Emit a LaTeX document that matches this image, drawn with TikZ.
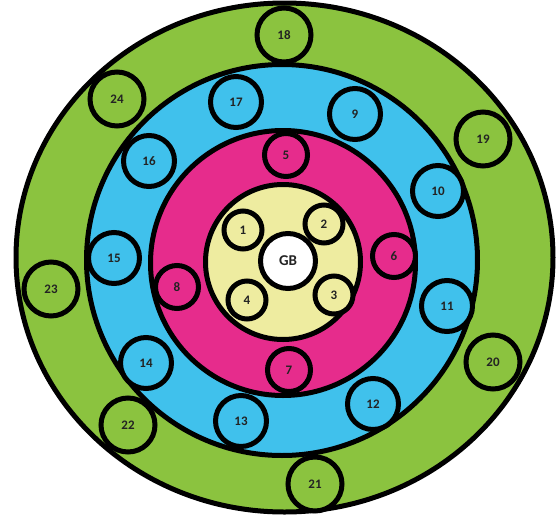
\documentclass[tikz,border=0pt]{standalone}
\usepackage{fontspec}
\setmainfont{Carlito}
\definecolor{ringgreen}{RGB}{139,195,63}
\definecolor{ringblue}{RGB}{64,193,236}
\definecolor{ringpink}{RGB}{230,44,140}
\definecolor{ringyellow}{RGB}{238,236,160}
\definecolor{labelink}{RGB}{35,35,35}
\begin{document}
\begin{tikzpicture}[x=1pt,y=-1pt,
  ringline/.style={draw=black,line width=5pt},
  bubble/.style={circle,draw=black,line width=5pt,inner sep=0pt,
    font=\bfseries\fontsize{13}{13}\selectfont,text=labelink},
  gbub/.style={bubble,fill=ringgreen,minimum size=54pt},
  bbub/.style={bubble,fill=ringblue,minimum size=51pt},
  pbub/.style={bubble,fill=ringpink,minimum size=43pt},
  ybub/.style={bubble,fill=ringyellow,minimum size=38pt},
  core/.style={bubble,fill=white,minimum size=55pt,
    font=\bfseries\fontsize{15}{15}\selectfont}]
\useasboundingbox (0,0) rectangle (558,515);
% rings
\draw[ringline,fill=ringgreen] (284.5,257.5) ellipse [x radius=268.5,y radius=254.5];
\draw[ringline,fill=ringblue] (282,260) circle [radius=195.5];
\draw[ringline,fill=ringpink] (283,263) circle [radius=132.5];
\draw[ringline,fill=ringyellow] (283,262) circle [radius=77.5];
% centre
\node[core] (gb) at (288,261) {GB};
% yellow ring
\node[ybub] (n1) at (243,230) {1};
\node[ybub] (n2) at (324,224) {2};
\node[ybub] (n3) at (334,295) {3};
\node[ybub] (n4) at (247,300) {4};
% pink ring
\node[pbub] (n5) at (286,155) {5};
\node[pbub] (n6) at (394,256) {6};
\node[pbub] (n7) at (289,370) {7};
\node[pbub] (n8) at (177,287) {8};
% blue ring
\node[bbub] (n9) at (355,114) {9};
\node[bbub] (n10) at (438,191) {10};
\node[bbub] (n11) at (447,306) {11};
\node[bbub] (n12) at (373,404) {12};
\node[bbub] (n13) at (241,421) {13};
\node[bbub] (n14) at (146,363) {14};
\node[bbub] (n15) at (114,258) {15};
\node[bbub] (n16) at (149,161) {16};
\node[bbub] (n17) at (236,102) {17};
% green ring
\node[gbub] (n18) at (284,35) {18};
\node[gbub] (n19) at (483,139) {19};
\node[gbub] (n20) at (493,362) {20};
\node[gbub] (n21) at (315,484) {21};
\node[gbub] (n22) at (128,425) {22};
\node[gbub] (n23) at (51,289) {23};
\node[gbub] (n24) at (117,99) {24};
\end{tikzpicture}
\end{document}
